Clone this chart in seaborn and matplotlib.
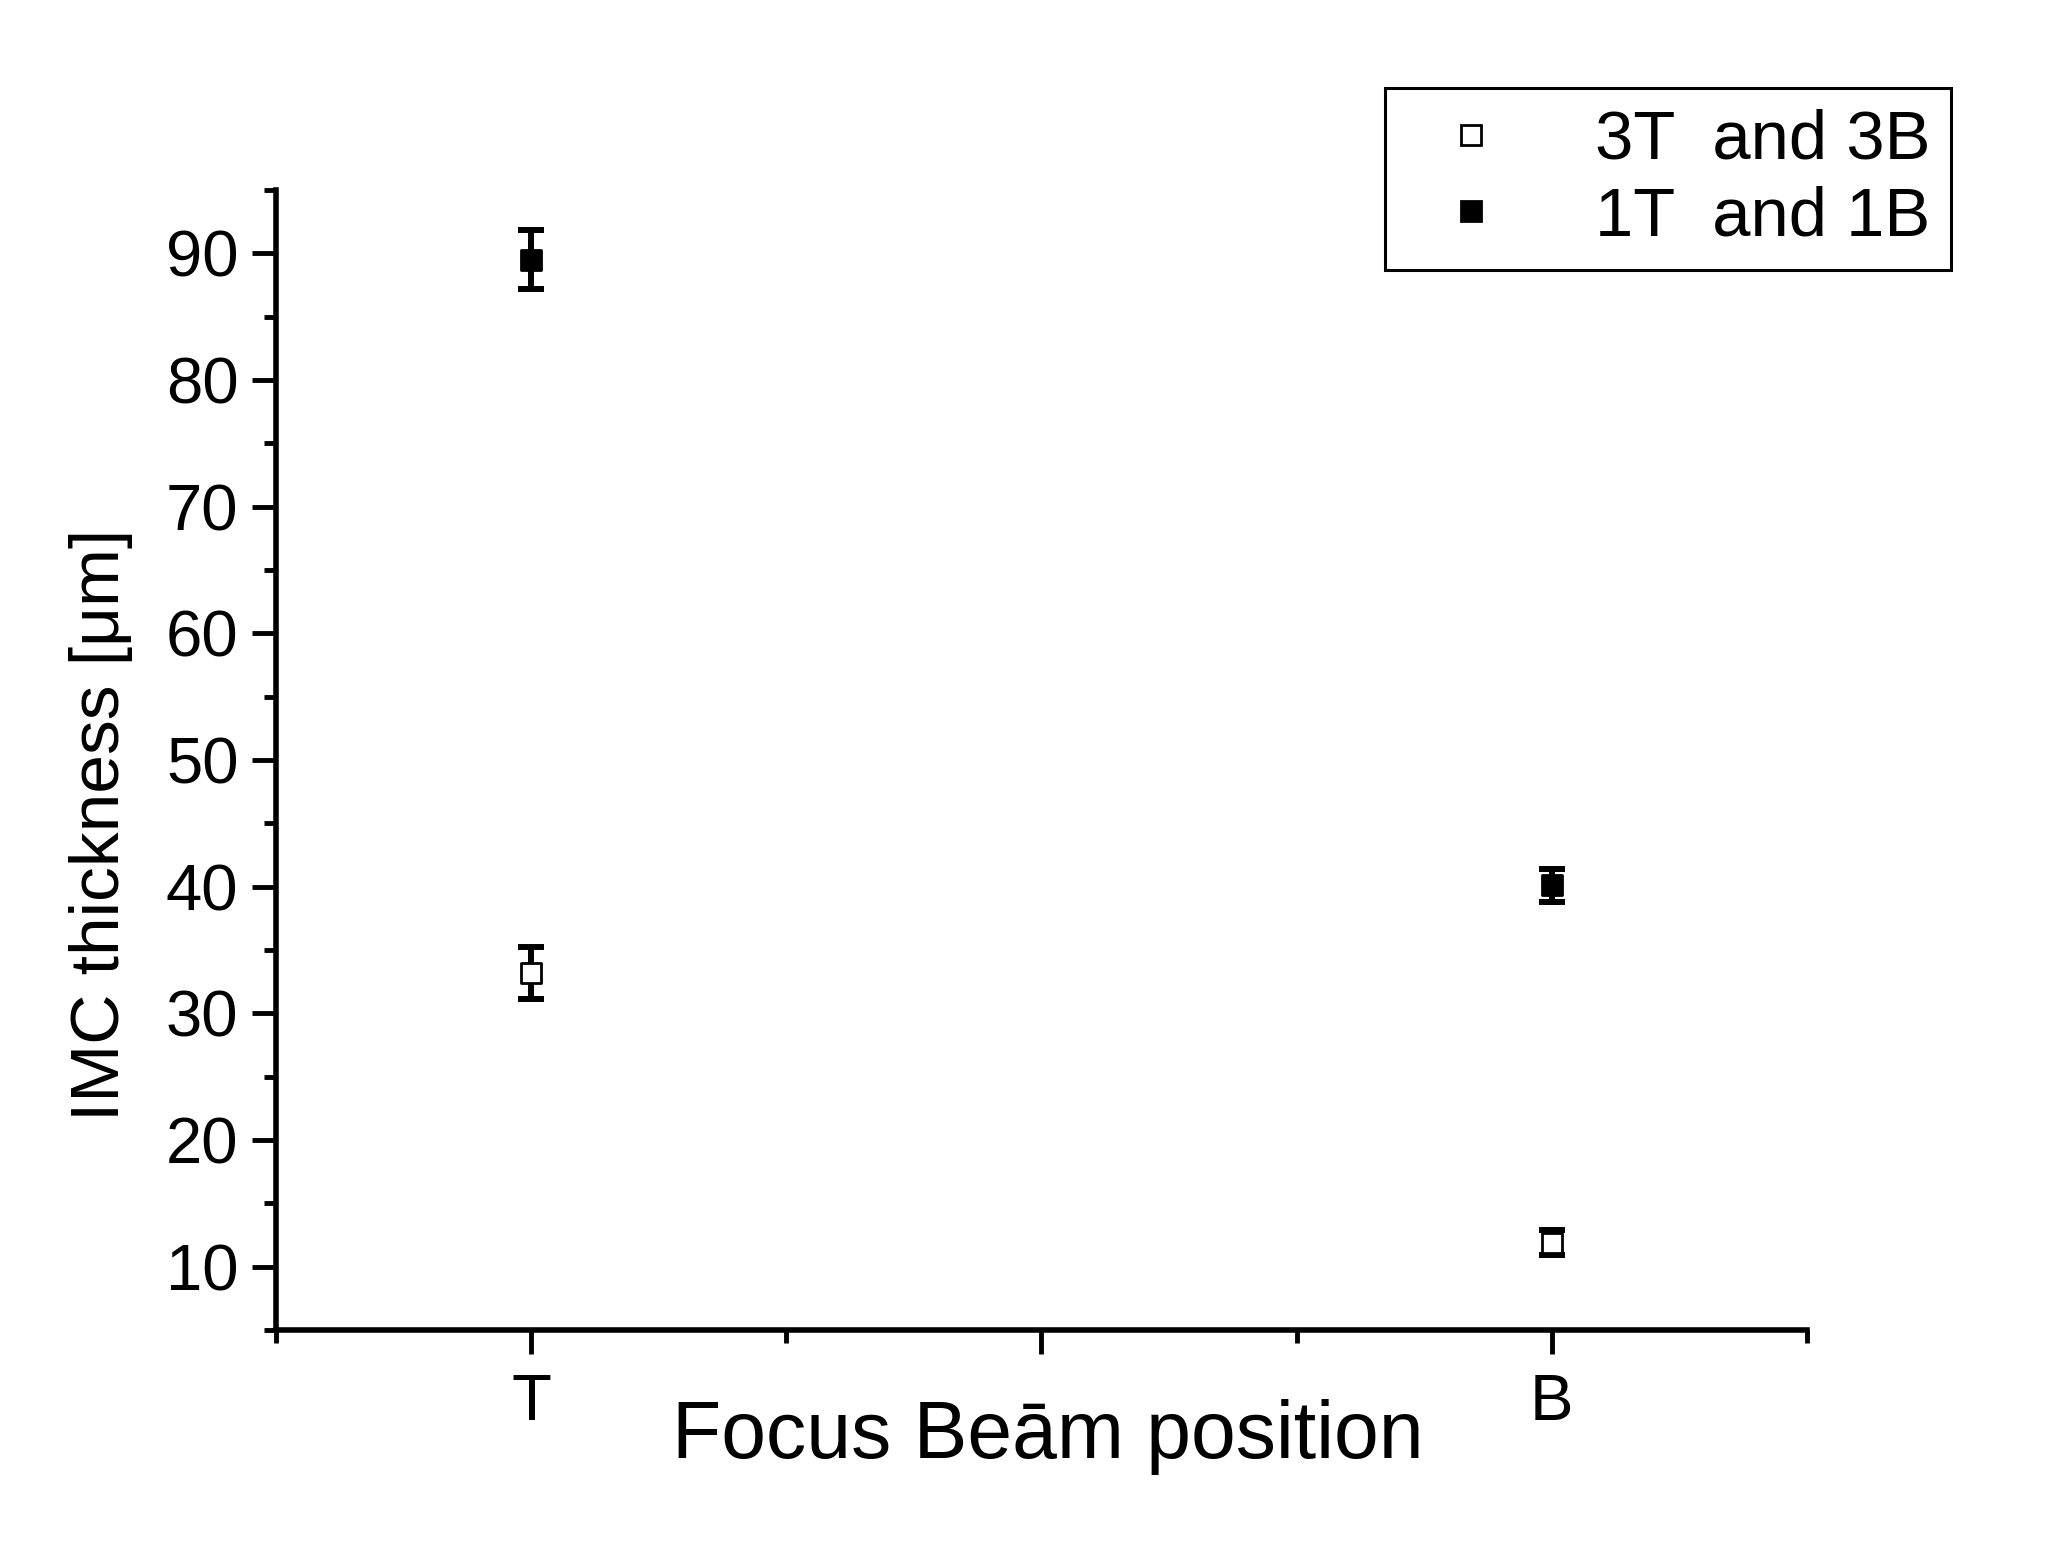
import matplotlib
matplotlib.use("Agg")
import matplotlib.pyplot as plt
from matplotlib.lines import Line2D
import pandas as pd
import seaborn as sns

# values
positions = ["T", "B"]
thick_3 = [33.2, 11.9]
err_3 = [2.05, 1.0]
thick_1 = [89.5, 40.1]
err_1 = [2.35, 1.3]
series_names = ["3T  and 3B", "1T  and 1B"]

sns.set_theme(style="ticks")
plt.rcParams["font.family"] = ["Liberation Sans", "DejaVu Sans"]
plt.rcParams["text.color"] = "black"

data = pd.DataFrame({
    "position": positions * 2,
    "thickness": thick_3 + thick_1,
    "err": err_3 + err_1,
    "series": [series_names[0]] * 2 + [series_names[1]] * 2,
})

fig = plt.figure(figsize=(20.56, 15.41), dpi=100)
ax = fig.add_axes([0.1342, 0.1369, 0.7447, 0.7398])

face = {series_names[0]: "white", series_names[1]: "black"}
for name, grp in data.groupby("series", sort=False):
    ax.errorbar(grp["position"], grp["thickness"], yerr=grp["err"], fmt="none",
                ecolor="black", elinewidth=4.3, capsize=9.7, capthick=4.3, zorder=2)

sns.scatterplot(data=data, x="position", y="thickness", hue="series",
                palette=face, marker="s", s=210, edgecolor="black", linewidth=2,
                legend=False, ax=ax, zorder=3)

ax.set_xlim(-0.25, 1.25)
ax.set_ylim(5, 95)
ax.set_xticks([0, 0.5, 1])
ax.set_xticklabels(["T", "", "B"])
ax.set_xticks([-0.25, 0.25, 0.75, 1.25], minor=True)
ax.set_yticks(range(10, 91, 10))
ax.set_yticks(range(5, 96, 10), minor=True)

for side in ["top", "right"]:
    ax.spines[side].set_visible(False)
for side in ["left", "bottom"]:
    ax.spines[side].set_linewidth(4)
    ax.spines[side].set_color("black")

ax.tick_params(which="major", direction="out", length=17, width=3.5, color="black",
               labelsize=47, labelcolor="black")
ax.tick_params(which="minor", direction="out", length=9, width=3.5, color="black")
ax.tick_params(axis="x", which="major", pad=14)
ax.tick_params(axis="y", which="major", pad=10)

ax.set_xlabel("Focus Beām position", fontsize=58, color="black")
ax.xaxis.set_label_coords(0.504, -0.1123)
ax.xaxis.label.set_va("baseline")
ax.set_ylabel("IMC thickness [μm]", fontsize=50, color="black")
ax.yaxis.set_label_coords(-0.114, 0.443)
ax.yaxis.label.set_va("center")

handles = [
    Line2D([], [], linestyle="none", marker="s", markersize=14,
           markerfacecolor=face[n], markeredgecolor="black", markeredgewidth=2)
    for n in series_names
]
leg = ax.legend(handles, series_names, loc="upper right",
                bbox_to_anchor=(1951 / 2056, 1 - 88 / 1541),
                bbox_transform=fig.transFigure, borderaxespad=0,
                fontsize=49.5, frameon=True, fancybox=False, framealpha=1,
                edgecolor="black", borderpad=0.3, labelspacing=0.18,
                handlelength=1.9, handletextpad=0.85)
leg.get_frame().set_linewidth(2.2)
for t in leg.get_texts():
    t.set_color("black")

fig.savefig("out.png", dpi=100, facecolor="white")
